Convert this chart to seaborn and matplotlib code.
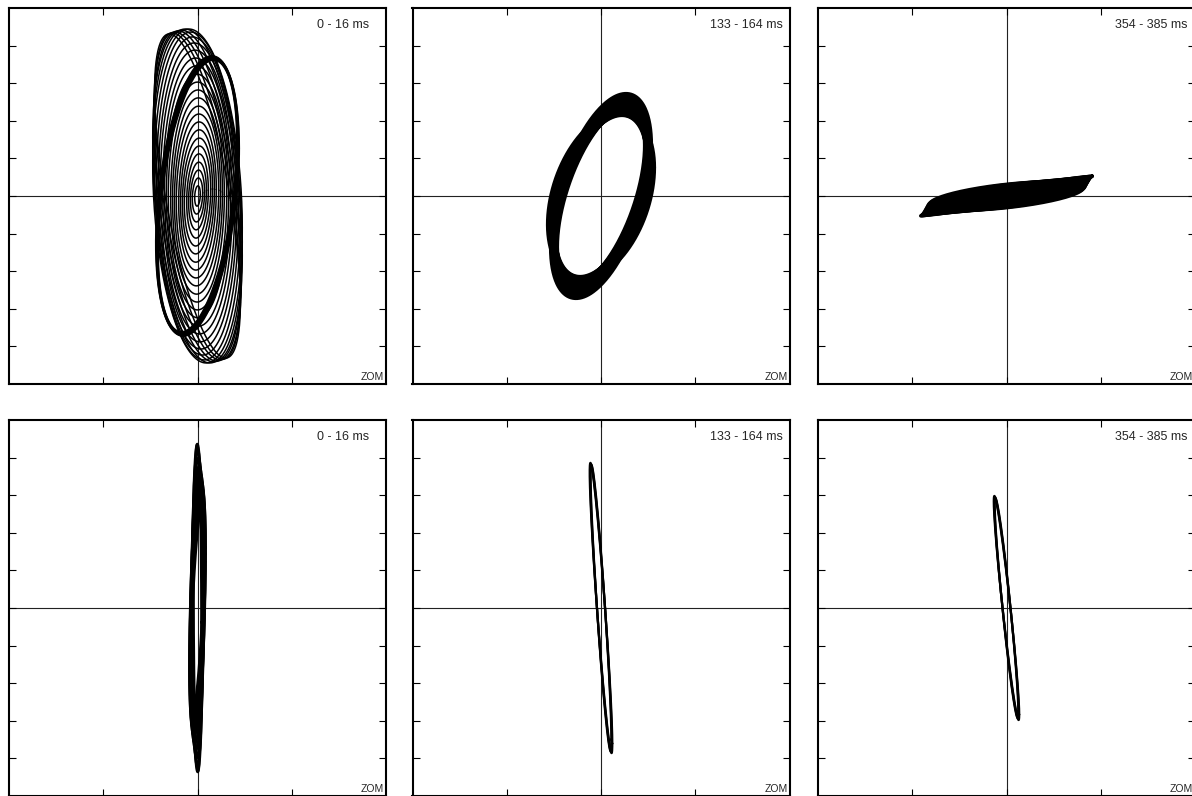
import numpy as np
import pandas as pd
import matplotlib.pyplot as plt
import seaborn as sns

sns.set_style("ticks")
plt.rcParams["font.family"] = ["Liberation Sans", "DejaVu Sans"]

# panel labels (same in both rows)
labels = ["0 - 16 ms", "133 - 164 ms", "354 - 385 ms"]
corner_tag = "ZOM"

# loop parameters: x amplitude, y amplitude, phase (deg)
# axes run from -4..4 (x) and -5..5 (y)

# top-left: growing spiral loops, then loops that swing over to a left tilt
p1_xamp = [0.06, 0.11, 0.15, 0.19, 0.23, 0.28, 0.32, 0.36, 0.40, 0.45, 0.49,
           0.53, 0.57, 0.62, 0.66, 0.70, 0.74, 0.79, 0.83, 0.87, 0.91, 0.95,
           0.95, 0.95, 0.93, 0.93, 0.91, 0.91]
p1_yamp = [0.27, 0.48, 0.69, 0.90, 1.12, 1.33, 1.54, 1.76, 1.97, 2.18, 2.39,
           2.61, 2.82, 3.03, 3.24, 3.46, 3.67, 3.88, 4.07, 4.23, 4.36, 4.44,
           4.44, 4.41, 4.39, 4.36, 4.34, 4.31]
p1_phase = [80, 80, 81, 81, 82, 82, 83, 84, 85, 86, 87,
            88, 89, 90, 91, 92, 93, 94, 95, 97, 99, 101,
            106, 111, 116, 121, 126, 131]
# top-left: the thick steady loop
p1b_xamp = [0.84, 0.85, 0.86, 0.87, 0.88]
p1b_yamp = [3.62, 3.65, 3.67, 3.70, 3.72]
p1b_phase = [66, 67, 68, 69, 70]

# top-middle: band of loops (long diagonal loop -> small loops -> wide loop)
p2_xamp = [1.061, 1.040, 1.019, 0.997, 0.976, 0.955, 0.934, 0.944, 0.955, 0.966,
           0.976, 0.997, 1.019, 1.040, 1.061, 1.082, 1.103, 1.125]
p2_yamp = [2.713, 2.660, 2.593, 2.527, 2.473, 2.407, 2.340, 2.287, 2.234, 2.194,
           2.154, 2.168, 2.181, 2.181, 2.194, 2.194, 2.207, 2.207]
p2_phase = [60, 59, 58, 57.5, 57, 56, 55, 57, 59, 61,
            63, 64, 65, 66, 67, 68, 69, 70]

# top-right: flat rod
p3_xamp = [1.82, 1.80, 1.78, 1.76, 1.74, 1.72, 1.70, 1.68, 1.66, 1.63]
p3_yamp = [0.53, 0.52, 0.51, 0.49, 0.47, 0.45, 0.43, 0.41, 0.39, 0.38]
p3_phase = [5, 10, 15, 20, 26, 32, 38, 44, 50, 55]

# bottom-left: narrow vertical loops
p4_xamp = [0.085, 0.11, 0.12, 0.13, 0.15, 0.16, 0.17, 0.17, 0.16, 0.15, 0.14]
p4_yamp = [4.34, 4.36, 4.20, 3.99, 3.78, 3.59, 3.40, 3.22, 3.03, 2.85, 2.66]
p4_phase = [95, 92, 88, 82, 76, 70, 65, 60, 56, 53, 50]

# bottom-middle and bottom-right: thin tilted loops
p5_xamp = [0.22, 0.23, 0.24]
p5_yamp = [3.80, 3.83, 3.86]
p5_phase = [157, 158, 159]

p6_xamp = [0.25, 0.26, 0.27]
p6_yamp = [2.92, 2.95, 2.98]
p6_phase = [160, 161, 162]


def loops(xamp, yamp, phase):
    t = np.linspace(0, 2 * np.pi, 400)
    parts = []
    for i, (a, b, ph) in enumerate(zip(xamp, yamp, phase)):
        parts.append(pd.DataFrame({"x": a * np.cos(t),
                                   "y": b * np.cos(t - np.radians(ph)),
                                   "loop": i}))
    return pd.concat(parts, ignore_index=True)


def draw(ax, df, lw):
    sns.lineplot(data=df, x="x", y="y", units="loop", estimator=None, sort=False,
                 color="black", lw=lw, ax=ax, legend=False)


fig = plt.figure(figsize=(11.92, 7.96), dpi=100)
W, H = 1192, 796
lefts = [9, 412.5, 818]
tops = [8, 420]
axes = []
for r in range(2):
    for c in range(3):
        ax = fig.add_axes([lefts[c] / W, (H - tops[r] - 376) / H, 377 / W, 376 / H])
        axes.append(ax)

panels = [
    [(loops(p1_xamp, p1_yamp, p1_phase), 1.1), (loops(p1b_xamp, p1b_yamp, p1b_phase), 1.6)],
    [(loops(p2_xamp, p2_yamp, p2_phase), 3.0)],
    [(loops(p3_xamp, p3_yamp, p3_phase), 2.5)],
    [(loops(p4_xamp, p4_yamp, p4_phase), 1.9)],
    [(loops(p5_xamp, p5_yamp, p5_phase), 1.6)],
    [(loops(p6_xamp, p6_yamp, p6_phase), 1.6)],
]

for i, ax in enumerate(axes):
    for df, lw in panels[i]:
        draw(ax, df, lw)
    ax.axhline(0, color="#222222", lw=0.8, zorder=0)
    ax.axvline(0, color="#222222", lw=0.8, zorder=0)
    ax.set_xlim(-4, 4)
    ax.set_ylim(-5, 5)
    ax.set_xticks([-2, 0, 2])
    ax.set_yticks(np.arange(-4, 5, 1))
    ax.set_xticklabels([])
    ax.set_yticklabels([])
    ax.set_xlabel("")
    ax.set_ylabel("")
    ax.tick_params(direction="in", length=5, width=0.8, color="black",
                   top=True, right=True)
    for s in ax.spines.values():
        s.set_visible(True)
        s.set_linewidth(1.5)
        s.set_color("black")
    ax.text(0.885, 0.955, labels[i % 3], transform=ax.transAxes,
            ha="center", va="center", fontsize=9)
    ax.text(0.995, 0.004, corner_tag, transform=ax.transAxes,
            ha="right", va="bottom", fontsize=7.5)

fig.savefig("out.png", dpi=100)
